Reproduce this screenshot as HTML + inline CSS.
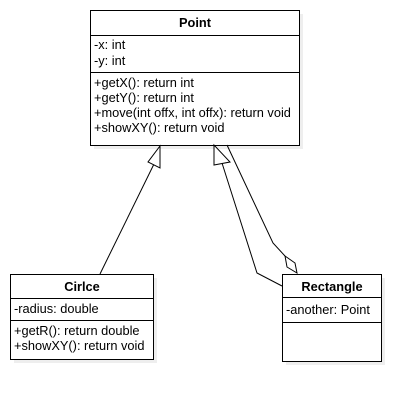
<!DOCTYPE html>
<html><head><style>
body{margin:0;background:#fff;width:419px;height:401px;overflow:hidden;font-family:"Liberation Sans",sans-serif;}
</style></head><body>
<svg width="419" height="401" xmlns="http://www.w3.org/2000/svg" font-family="Liberation Sans, sans-serif" font-size="12.8">
<rect x="94" y="14" width="209" height="135" fill="#eee"/>
<rect x="14" y="278" width="143" height="85" fill="#eee"/>
<rect x="286" y="278" width="99" height="87" fill="#eee"/>
<rect x="90.5" y="10.5" width="209" height="135" fill="#fff" stroke="#000"/>
<line x1="90" y1="35.5" x2="300" y2="35.5" stroke="#000"/>
<line x1="90" y1="72.5" x2="300" y2="72.5" stroke="#000"/>
<text x="195" y="27" text-anchor="middle" font-weight="bold">Point</text>
<text x="94" y="49">-x: int</text>
<text x="94" y="65">-y: int</text>
<text x="94" y="87">+getX(): return int</text>
<text x="94" y="102">+getY(): return int</text>
<text x="94" y="117">+move(int offx, int offx): return void</text>
<text x="94" y="132">+showXY(): return void</text>
<rect x="10.5" y="274.5" width="143" height="85" fill="#fff" stroke="#000"/>
<line x1="10" y1="298.5" x2="154" y2="298.5" stroke="#000"/>
<line x1="10" y1="320.5" x2="154" y2="320.5" stroke="#000"/>
<text x="82" y="291" text-anchor="middle" font-weight="bold">Cirlce</text>
<text x="14" y="313">-radius: double</text>
<text x="14" y="335">+getR(): return double</text>
<text x="14" y="350">+showXY(): return void</text>
<rect x="282.5" y="274.5" width="99" height="87" fill="#fff" stroke="#000"/>
<line x1="282" y1="297.5" x2="382" y2="297.5" stroke="#000"/>
<line x1="282" y1="322.5" x2="382" y2="322.5" stroke="#000"/>
<text x="332" y="291" text-anchor="middle" font-weight="bold">Rectangle</text>
<text x="286" y="314">-another: Point</text>
<g stroke="#000" fill="none" stroke-width="1">
<line x1="100" y1="274" x2="154" y2="164"/>
<polygon points="160,146 160,168 148,162" fill="#fff"/>
<polyline points="222,163 257,273 282,286"/>
<polygon points="214,145 214,165 230,162" fill="#fff"/>
<polyline points="227,145 273,243 285,256"/>
<polygon points="285,256 295,263 297,273 287,267" fill="#fff"/>
</g>
</svg>
</body></html>
